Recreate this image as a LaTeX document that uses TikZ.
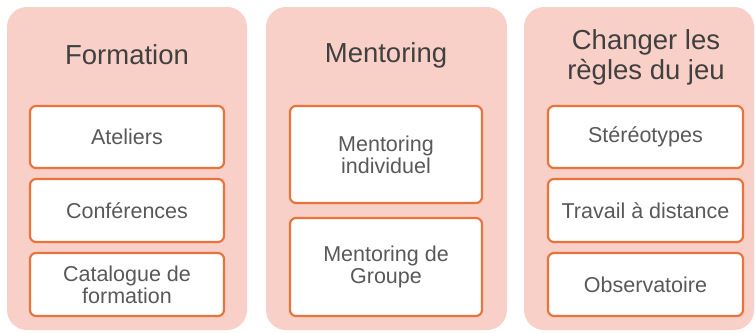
\documentclass[tikz,border=0pt]{standalone}
\usepackage{fontspec}
\setmainfont{Liberation Sans}
\definecolor{panelpink}{HTML}{F9D0C8}
\definecolor{boxorange}{HTML}{E8743B}
\definecolor{titlegray}{HTML}{404040}
\definecolor{textgray}{HTML}{595959}
\begin{document}
\begin{tikzpicture}[x=1pt,y=-1pt,
  panel/.style={draw=none,fill=panelpink,rounded corners=20pt,inner sep=0pt},
  itembox/.style={draw=boxorange,line width=2.2pt,fill=white,rounded corners=6pt,inner sep=0pt,
    font=\fontsize{21.5}{22}\selectfont,text=textgray,align=center},
  paneltitle/.style={font=\fontsize{27.5}{30}\selectfont,text=titlegray,align=center,inner sep=0pt}]
\useasboundingbox (0,0) rectangle (755,332);
% panels
\node[panel,minimum width=240pt,minimum height=323pt] (p1) at (127,168.5) {};
\node[panel,minimum width=241pt,minimum height=323pt] (p2) at (386.5,168.5) {};
\node[panel,minimum width=230pt,minimum height=323pt] (p3) at (639,168.5) {};
% titles
\node[paneltitle] (t1) at (127,55) {Formation};
\node[paneltitle] (t2) at (386,55) {Mentoring};
\node[paneltitle] (t3) at (646,57) {Changer les\\règles du jeu};
% left column
\node[itembox,minimum width=194pt,minimum height=62pt] (a1) at (127,137) {Ateliers};
\node[itembox,minimum width=194pt,minimum height=63pt] (a2) at (127,210.5) {Conférences};
\node[itembox,minimum width=194pt,minimum height=63pt] (a3) at (127,284.5) {Catalogue de\\formation};
% middle column
\node[itembox,minimum width=192pt,minimum height=97pt] (b1) at (386,154.5) {Mentoring\\individuel};
\node[itembox,minimum width=192pt,minimum height=98pt] (b2) at (386,267) {Mentoring de\\Groupe};
% right column
\node[itembox,minimum width=195pt,minimum height=62pt] (c1) at (645.5,137) {Stéréotypes};
\node[itembox,minimum width=195pt,minimum height=63pt] (c2) at (645.5,210.5) {Travail à distance};
\node[itembox,minimum width=195pt,minimum height=63pt] (c3) at (645.5,284.5) {Observatoire};
\end{tikzpicture}
\end{document}
